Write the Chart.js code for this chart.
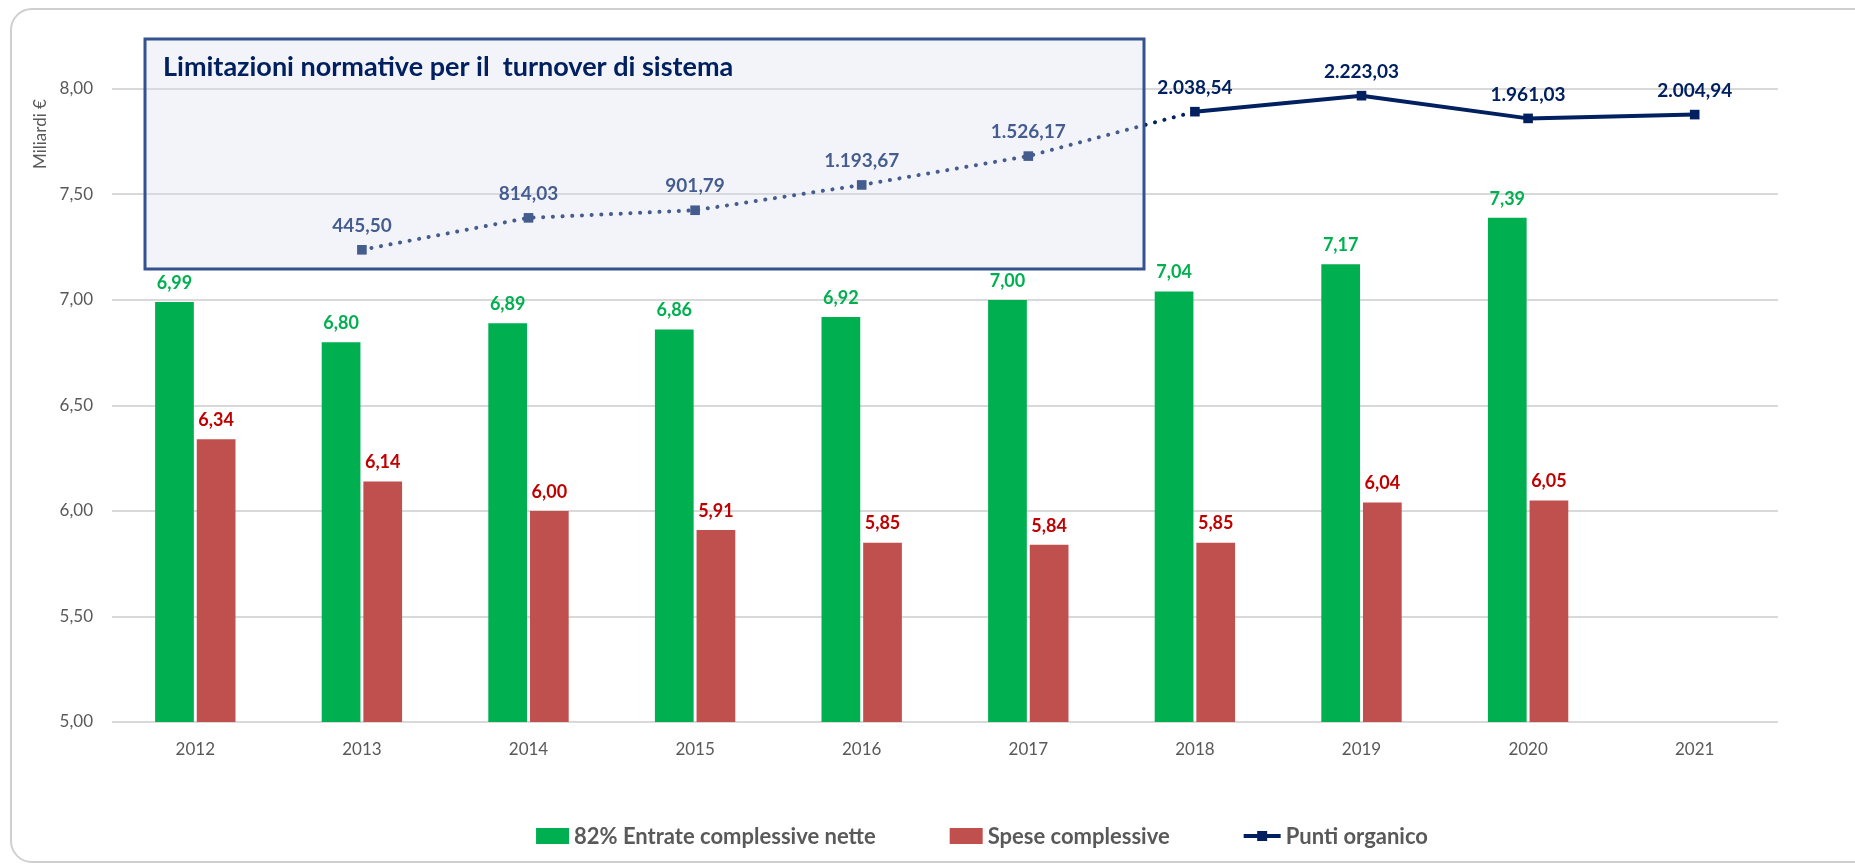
<!DOCTYPE html>
<html>
<head>
<meta charset="utf-8">
<script src="https://cdn.jsdelivr.net/npm/chart.js@4.4.1/dist/chart.umd.min.js"></script>
<style>
html,body{margin:0;padding:0;background:#ffffff;overflow:hidden;width:1855px;height:866px;}
#frame{position:absolute;left:10px;top:8px;width:1900px;height:855px;border:2px solid #cfcfcf;border-radius:22px;box-sizing:border-box;}
#wrap{position:absolute;left:0;top:0;width:1855px;height:866px;}
</style>
</head>
<body>
<div id="frame"></div>
<div id="wrap"><canvas id="c" width="1855" height="866"></canvas></div>
<script>
// ---- data ----
const categories = ['2012','2013','2014','2015','2016','2017','2018','2019','2020','2021'];
const entrateNette = [6.99, 6.80, 6.89, 6.86, 6.92, 7.00, 7.04, 7.17, 7.39, null];
const speseComplessive = [6.34, 6.14, 6.00, 5.91, 5.85, 5.84, 5.85, 6.04, 6.05, null];
const puntiOrganico = [null, 445.50, 814.03, 901.79, 1193.67, 1526.17, 2038.54, 2223.03, 1961.03, 2004.94];
const seriesNames = ['82% Entrate complessive nette', 'Spese complessive', 'Punti organico'];
const yTickValues = [5.00, 5.50, 6.00, 6.50, 7.00, 7.50, 8.00];
const yAxisTitle = 'Miliardi €';
const boxTitle = 'Limitazioni normative per il  turnover di sistema';

// ---- styling ----
const GREEN = '#00B050', RED = '#C0504D', RED_TXT = '#C00000', NAVY = '#002060', GREY = '#595959';
const FONT = 'Lato, "Open Sans", sans-serif';
const annot = {left: 145, top: 39, right: 1144, bottom: 269};

function fmt(v){
  const s = Math.abs(v).toFixed(2);
  let [i, d] = s.split('.');
  i = i.replace(/\B(?=(\d{3})+(?!\d))/g, '.');
  return (v < 0 ? '-' : '') + i + ',' + d;
}

const overlayPlugin = {
  id: 'overlayPlugin',
  afterDatasetsDraw(chart){
    const ctx = chart.ctx;
    ctx.save();
    chart.data.datasets.forEach((ds, di) => {
      const meta = chart.getDatasetMeta(di);
      meta.data.forEach((el, i) => {
        const v = ds.data[i];
        if (v === null || v === undefined) return;
        ctx.font = ds.lblFont;
        ctx.fillStyle = ds.lblColor;
        ctx.textAlign = 'center';
        ctx.textBaseline = 'middle';
        ctx.fillText(fmt(v), el.x, el.y - ds.lblOffset);
      });
    });
    // translucent annotation box over the projected part of the line
    ctx.fillStyle = 'rgba(214,220,240,0.32)';
    ctx.fillRect(annot.left, annot.top, annot.right - annot.left, annot.bottom - annot.top);
    ctx.lineWidth = 3;
    ctx.strokeStyle = '#34528F';
    ctx.strokeRect(annot.left, annot.top, annot.right - annot.left, annot.bottom - annot.top);
    ctx.font = 'bold 27px ' + FONT;
    ctx.fillStyle = NAVY;
    ctx.textAlign = 'left';
    ctx.textBaseline = 'middle';
    ctx.fillText(boxTitle, annot.left + 18, 67);
    ctx.restore();
  },
  afterDraw(chart){
    const ctx = chart.ctx;
    ctx.save();
    // y axis title
    ctx.translate(41, 134);
    ctx.rotate(-Math.PI / 2);
    ctx.font = '17px ' + FONT;
    ctx.fillStyle = GREY;
    ctx.textAlign = 'center';
    ctx.textBaseline = 'middle';
    ctx.fillText(yAxisTitle, 0, 0);
    ctx.restore();

    // legend
    ctx.save();
    ctx.font = 'bold 22px ' + FONT;
    ctx.textBaseline = 'middle';
    ctx.textAlign = 'left';
    const items = chart.data.datasets.map(ds => ({
      text: ds.label, type: ds.type || 'bar', color: ds.type === 'line' ? ds.borderColor : ds.backgroundColor
    }));
    const mw = it => it.type === 'line' ? 37 : 33;
    const gap = 74, tgap = 5;
    let total = 0;
    items.forEach((it, k) => { total += mw(it) + tgap + ctx.measureText(it.text).width + (k ? gap : 0); });
    let x = 982 - total / 2;
    const cy = 836;
    items.forEach(it => {
      if (it.type === 'line') {
        ctx.strokeStyle = it.color; ctx.lineWidth = 4;
        ctx.beginPath(); ctx.moveTo(x, cy); ctx.lineTo(x + 37, cy); ctx.stroke();
        ctx.fillStyle = it.color; ctx.fillRect(x + 18.5 - 5, cy - 5, 10, 10);
      } else {
        ctx.fillStyle = it.color; ctx.fillRect(x, cy - 8, 33, 16);
      }
      x += mw(it) + tgap;
      ctx.fillStyle = GREY;
      ctx.fillText(it.text, x, cy + 1);
      x += ctx.measureText(it.text).width + gap;
    });
    ctx.restore();
  }
};

new Chart(document.getElementById('c'), {
  data: {
    labels: categories,
    datasets: [
      {
        type: 'bar', label: seriesNames[0], data: entrateNette, yAxisID: 'y', order: 1,
        backgroundColor: GREEN, categoryPercentage: 0.5, barPercentage: 0.93,
        lblFont: 'bold 18px ' + FONT, lblColor: GREEN, lblOffset: 19
      },
      {
        type: 'bar', label: seriesNames[1], data: speseComplessive, yAxisID: 'y', order: 1,
        backgroundColor: RED, categoryPercentage: 0.5, barPercentage: 0.93,
        lblFont: 'bold 18px ' + FONT, lblColor: RED_TXT, lblOffset: 19
      },
      {
        type: 'line', label: seriesNames[2], data: puntiOrganico, yAxisID: 'y1', order: 0,
        borderColor: NAVY, borderWidth: 4, borderCapStyle: 'round', borderJoinStyle: 'round',
        pointStyle: 'rect', pointRadius: 6.8, pointBorderWidth: 0, pointBackgroundColor: NAVY,
        segment: { borderDash: c => c.p1DataIndex <= 6 ? [0.1, 9.6] : undefined },
        tension: 0, clip: false,
        lblFont: 'bold 19px ' + FONT, lblColor: NAVY, lblOffset: 24
      }
    ]
  },
  options: {
    responsive: false,
    animation: false,
    devicePixelRatio: 1,
    layout: { padding: { top: 89, right: 77, left: 0, bottom: 0 } },
    plugins: { legend: { display: false }, tooltip: { enabled: false } },
    scales: {
      x: {
        grid: { display: false, drawTicks: false },
        border: { display: false },
        ticks: { font: { family: FONT, size: 17 }, color: GREY, padding: 17 },
        afterFit: s => { s.height = 144; }
      },
      y: {
        min: yTickValues[0], max: yTickValues[yTickValues.length - 1],
        afterBuildTicks: s => { s.ticks = yTickValues.map(v => ({ value: v })); },
        grid: { color: '#D9D9D9', lineWidth: 2, drawTicks: false },
        border: { display: false },
        ticks: { font: { family: FONT, size: 17 }, color: GREY, padding: 19, callback: v => fmt(v) },
        afterFit: s => { s.width = 112; }
      },
      y1: { display: false, position: 'right', min: -5000, max: 2300 }
    }
  },
  plugins: [overlayPlugin]
});
</script>
</body>
</html>
